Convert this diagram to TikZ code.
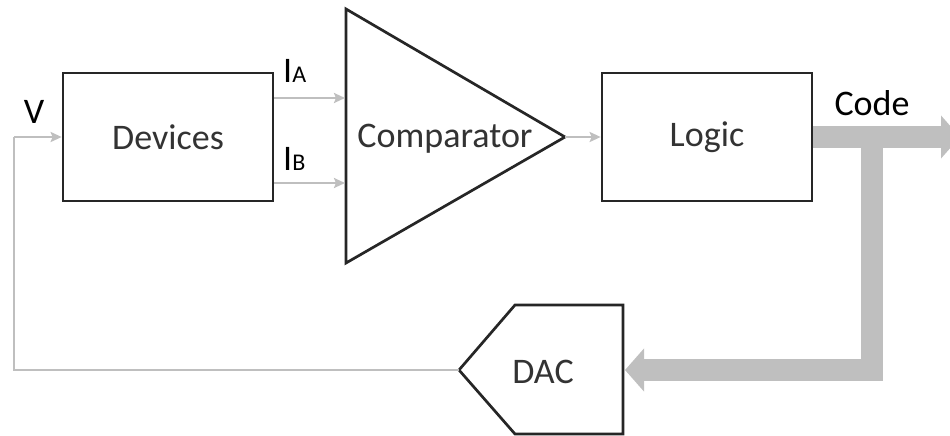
\documentclass[tikz,border=0pt]{standalone}
\usepackage{fontspec}
\setmainfont{Carlito}
\usetikzlibrary{arrows.meta}
\definecolor{boxline}{HTML}{262626}
\definecolor{txt}{HTML}{333333}
\definecolor{wire}{HTML}{BFBFBF}
\tikzset{
  blockbox/.style={draw=boxline, line width=2.7pt, fill=white, minimum width=210pt, minimum height=128pt, inner sep=0pt, font=\fontsize{36}{40}\selectfont, text=txt},
  shapeline/.style={draw=boxline, line width=2.7pt, line join=miter, fill=white},
  bigtext/.style={font=\fontsize{36}{40}\selectfont, text=txt, inner sep=0pt},
  lbl/.style={font=\fontsize{36}{40}\selectfont, text=black, inner sep=0pt},
  wireline/.style={draw=wire, line width=2.6pt, -{Stealth[length=11pt,width=10pt,inset=2pt]}},
  fbline/.style={draw=wire, line width=2.6pt},
  bus/.style={draw=wire, line width=22pt, line join=miter, -{Triangle[length=19pt,width=42pt]}},
}
\begin{document}
\begin{tikzpicture}[x=1pt,y=-1pt]
\useasboundingbox (0,0) rectangle (950,436);
% blocks
\node[blockbox] (dev) at (168,137) {Devices};
\node[blockbox] (logic) at (707,137) {Logic};
% comparator
\coordinate (cmpTL) at (346,9);
\coordinate (cmpBL) at (346,263);
\coordinate (cmpO) at (565,137);
\filldraw[shapeline] (cmpTL) -- (cmpO) -- (cmpBL) -- cycle;
\node[bigtext] (cmp) at (445,139) {Comparator};
\coordinate (inA) at (345,98);
\coordinate (inB) at (345,183);
% DAC
\coordinate (dacL) at (459,370);
\coordinate (dacR) at (625,370);
\filldraw[shapeline] (dacL) -- (515,305) -- (623,305) -- (623,434) -- (515,434) -- cycle;
\node[bigtext] (dac) at (543,372) {DAC};
% signal wires
\draw[wireline] (dev.east |- inA) -- (inA);
\draw[wireline] (dev.east |- inB) -- (inB);
\draw[wireline] (cmpO) -- (logic.west);
\coordinate (fbcorner1) at (14,370);
\coordinate (fbcorner2) at (14,137);
\draw[fbline] (dacL) -- (fbcorner1) -- (fbcorner2);
\draw[wireline] (fbcorner2) -- (dev.west);
% bus
\coordinate (busEnd) at (960,137);
\coordinate (busT) at (872,137);
\coordinate (busC) at (872,370);
\draw[bus] (logic.east) -- (busEnd);
\draw[bus] (busT) -- (busC) -- (dacR);
% labels
\node[lbl, anchor=base] (vlbl) at (34,123) {V};
\node[lbl, anchor=base west] (ia) at (283,82) {I\fontsize{24}{26}\selectfont A};
\node[lbl, anchor=base west] (ib) at (283,170) {I\fontsize{24}{26}\selectfont B};
\node[lbl, anchor=base] (code) at (872,115) {Code};
\end{tikzpicture}
\end{document}
